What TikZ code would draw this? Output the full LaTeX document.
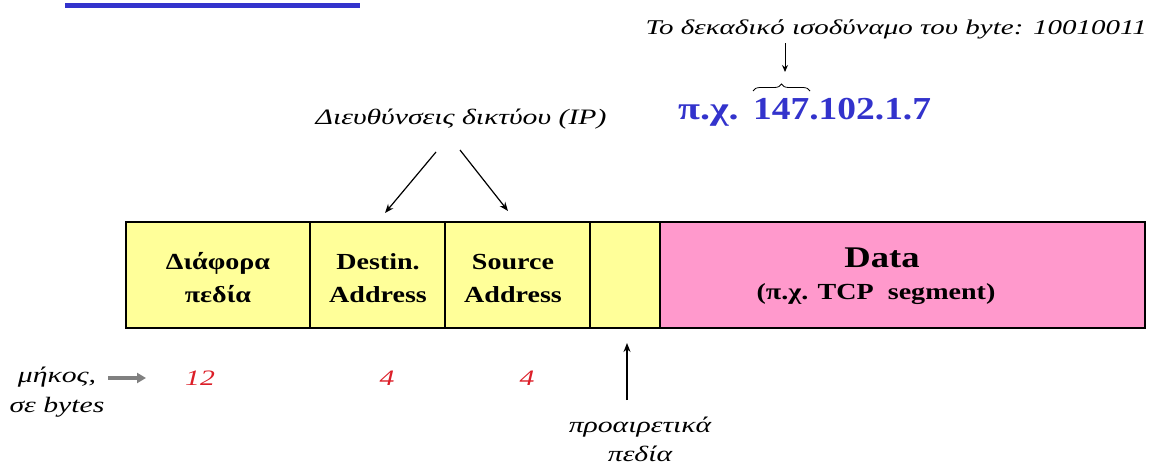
\documentclass[tikz,border=0pt]{standalone}
\usepackage{graphicx}
\usepackage{fontspec}
\setmainfont{Liberation Serif}
\usetikzlibrary{arrows.meta,decorations.pathreplacing}
\definecolor{fyellow}{RGB}{255,255,153}
\definecolor{fpink}{RGB}{255,153,204}
\definecolor{tblue}{RGB}{51,51,204}
\definecolor{tred}{RGB}{220,30,40}
\definecolor{agray}{RGB}{128,128,128}
\newcommand\wb[1]{\scalebox{1.22}[1]{#1}}
\newcommand\wi[1]{\scalebox{1.35}[1]{#1}}
\tikzset{
  field/.style={draw=black, line width=1.2pt, inner sep=0pt, outer sep=0pt, minimum height=106pt},
  ftext/.style={inner sep=0pt, align=center, font=\fontsize{23}{33}\selectfont\bfseries},
  lbl/.style={inner sep=0pt, align=center, font=\fontsize{22}{30}\selectfont\itshape},
  num/.style={inner sep=0pt, text=tred, font=\fontsize{22}{25}\selectfont\itshape},
  arr/.style={line width=1.2pt, -{Stealth[length=9pt,width=7pt]}},
}
\begin{document}
\begin{tikzpicture}[x=1pt,y=-1pt]
\useasboundingbox (0,0) rectangle (1150,466);
% top bar
\fill[tblue] (65,3) rectangle (360,8);
% fields
\node[field, fill=fyellow, minimum width=184pt] (f1) at (218,275) {};
\node[field, fill=fyellow, minimum width=135pt] (f2) at (377.5,275) {};
\node[field, fill=fyellow, minimum width=145pt] (f3) at (517.5,275) {};
\node[field, fill=fyellow, minimum width=70pt] (f4) at (625,275) {};
\node[field, fill=fpink, minimum width=485pt] (data) at (902.5,275) {};
\node[ftext] (f1t) at (218,278) {\wb{Διάφορα}\\\wb{πεδία}};
\node[ftext] (f2t) at (378,278) {\wb{Destin.}\\\wb{Address}};
\node[ftext] (f3t) at (513,278) {\wb{Source}\\\wb{Address}};
\node[inner sep=0pt, anchor=base, font=\fontsize{30}{33}\selectfont\bfseries] (dt) at (882,267) {\wb{Data}};
\node[inner sep=0pt, anchor=base, font=\fontsize{23}{24}\selectfont\bfseries] (ds) at (876,299) {\wb{(π.χ. TCP\ \ segment)}};
% IP label and arrows
\node[lbl, anchor=base] (ip) at (461,124) {\wi{Διευθύνσεις δικτύου (IP)}};
\coordinate (ipl) at (436,152);
\coordinate (ipr) at (460,150);
\coordinate (dsta) at (385,213);
\coordinate (srca) at (508,211);
\draw[arr] (ipl) -- (dsta);
\draw[arr] (ipr) -- (srca);
% top right
\node[inner sep=0pt, anchor=base east, font=\fontsize{21}{25}\selectfont\itshape] (dec) at (1147,34) {\scalebox{1.38}[1]{Το δεκαδικό ισοδύναμο του byte: 10010011}};
\node[inner sep=0pt, anchor=base west, text=tblue, font=\fontsize{32}{34}\selectfont\bfseries] (px) at (678,119) {\scalebox{1.25}[1]{π.χ.}};
\node[inner sep=0pt, anchor=base west, text=tblue, font=\fontsize{32}{34}\selectfont\bfseries] (addr) at (753,119) {\scalebox{1.17}[1]{147.102.1.7}};
\coordinate (brl) at (753,91);
\coordinate (brr) at (810,91);
\draw[decorate, decoration={brace, amplitude=7pt}, line width=0.8pt] (brl) -- (brr);
\coordinate (dtop) at (785,43);
\coordinate (dbot) at (785,72);
\draw[line width=1pt, -{Stealth[length=7pt,width=6pt]}] (dtop) -- (dbot);
% bottom
\node[lbl] (len) at (57,392) {\wi{μήκος,}\\\wi{σε bytes}};
\coordinate (ga) at (108,378);
\coordinate (gb) at (146,378);
\draw[agray, line width=3.2pt, -{Triangle[length=9pt,width=10pt]}] (ga) -- (gb);
\node[num] (n1) at (200,378) {\wi{12}};
\node[num] (n2) at (387,378) {\wi{4}};
\node[num] (n3) at (527,378) {\wi{4}};
\coordinate (opt) at (627,400);
\coordinate (optt) at (627,343);
\draw[arr] (opt) -- (optt);
\node[lbl, font=\fontsize{22}{29}\selectfont\itshape] (optl) at (640,439) {\wi{προαιρετικά}\\\wi{πεδία}};
\end{tikzpicture}
\end{document}
